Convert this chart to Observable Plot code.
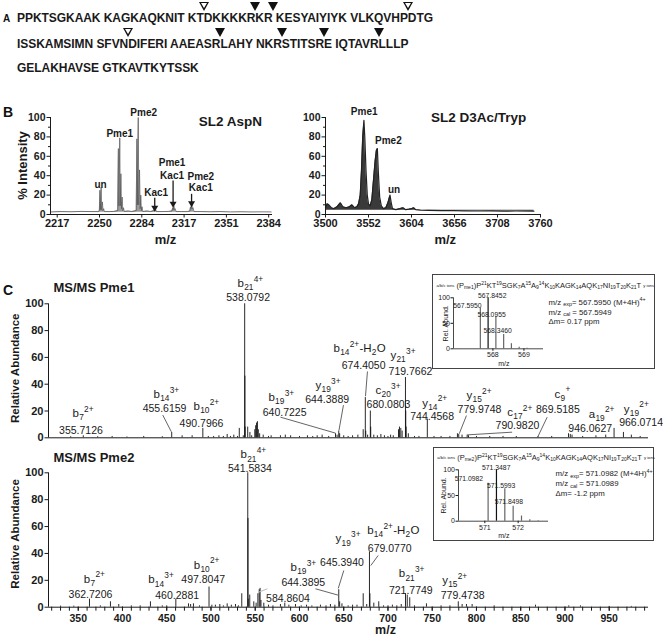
<!DOCTYPE html>
<html><head><meta charset="utf-8">
<script src="https://cdn.jsdelivr.net/npm/d3@7"></script>
<script src="https://cdn.jsdelivr.net/npm/@observablehq/plot@0.6"></script>
<style>
html,body{margin:0;padding:0;background:#fff}
#fig{position:relative;width:663px;height:636px;overflow:hidden;font-family:"Liberation Sans",Arial,Helvetica,sans-serif;color:#111;background:#fff}
#fig svg{position:absolute}
.seq{position:absolute;left:17px;font-weight:bold;font-size:12px;line-height:14px;white-space:pre;color:#1a1a1a}
.plab{position:absolute;font-weight:bold;line-height:16px}
.tri{position:absolute;width:0;height:0}
.tri::before{content:"";position:absolute;left:-5px;top:0;border-left:5px solid transparent;border-right:5px solid transparent;border-top:9px solid #111}
.tri.o::after{content:"";position:absolute;left:-3.2px;top:1.1px;border-left:3.2px solid transparent;border-right:3.2px solid transparent;border-top:5.8px solid #fff}
</style></head>
<body><div id="fig"></div>
<script>
// ---------------- DATA ----------------
const seqLines = [
  "PPKTSGKAAK KAGKAQKNIT KT{o}DKKKKR{f}KR{f} KESYAIYIYK VLKQVHP{o}DTG",
  "ISSKAMSIMN SFVN{o}DIFERI AAEASR{f}LAHY NKR{f}STITSR{f}E IQTAVR{f}LLLP",
  "GELAKHAVSE GTKAVTKYTSSK"
];

// Panel B left: SL2 AspN spectrum [m/z, % intensity]
const aspN = [[2212,2.6],[2220,3],[2228,2.8],[2236,3.2],[2244,3],[2249.8,3],
 [2250.3,4],[2250.7,25],[2251.1,5],[2251.7,28],[2252.1,5],[2252.7,13],[2253.1,4],[2253.7,6],[2254.2,3],
 [2258,3],[2262,3.2],
 [2264.8,4],[2265.3,68],[2265.7,9],[2266.4,79],[2266.8,9],[2267.3,42],[2267.8,6],[2268.3,18],[2268.8,4],[2269.3,7],[2270,3],
 [2273,3.5],[2276,3],
 [2279.4,4],[2279.9,78],[2280.3,10],[2281,100],[2281.4,10],[2282,46],[2282.5,6],[2283,20],[2283.5,4],[2284,8],[2284.6,3],
 [2288,3.5],[2291,3],
 [2293.3,4],[2293.8,5.5],[2294.3,4],[2294.8,5],[2295.4,3],
 [2300,3],[2305,3.2],
 [2307.6,3.5],[2308.2,7],[2308.7,5],[2309.2,8.5],[2309.7,5],[2310.2,6],[2310.8,3],
 [2315,3],[2320,3],
 [2321.8,3.5],[2322.3,8],[2322.8,6],[2323.3,10],[2323.8,6],[2324.3,7],[2325,3],
 [2330,3],[2338,2.8],[2346,3],[2354,2.6],[2362,2.8],[2370,2.6],[2378,2.7],[2386,2.6]];
const aspNTicks = [2217, 2250.4, 2283.8, 2317.2, 2350.6, 2384];
const aspNLabels = [
  {t:"un", x:2251.2, y:30.6}, {t:"Pme1", x:2266.4, y:83.2}, {t:"Pme2", x:2285.3, y:104.4},
  {t:"Kac1", x:2295.1, y:22}, {t:"Pme1", x:2307.7, y:52.9}, {t:"Kac1", x:2307.7, y:40.2},
  {t:"Pme2", x:2330.4, y:39.2}, {t:"Kac1", x:2330.4, y:27.1}];
const aspNArrows = [[2294,17.2,2294,6.9],[2308.5,35,2308.5,11],[2323.1,21.3,2323.1,11.6]];

// Panel B right: SL2 D3Ac/Tryp spectrum
const tryp = [[3500,7],[3502,11],[3504,10],[3507,7],[3510,6],[3514,8],[3518,12],[3521,8],[3525,7],[3529,8],[3532,10],[3535,7],
 [3538,8],[3540,11],[3542,20],[3543.5,45],[3545,80],[3546.5,97],[3547.5,80],[3549,45],[3550.5,20],[3552,11],[3554,9],
 [3556,15],[3558,35],[3560,55],[3561.5,66],[3562.7,68],[3564,42],[3565.5,18],[3567.5,9],[3570,6],[3573,7],[3575.5,12],
 [3578,20],[3579.5,12],[3581,6],[3585,5],[3590,6],[3593.7,7],[3597,5],[3601,5.5],[3604,6],[3606.6,7],[3609,5],[3615,4.5],
 [3625,4.2],[3640,4],[3655,4],[3670,3.8],[3685,3.6],[3700,3.7],[3715,3.5],[3730,3.6],[3752,3.4]];
const trypTicks = [3500, 3552, 3604, 3656, 3708, 3760];
const trypLabels = [{t:"Pme1", x:3546.8, y:105.5}, {t:"Pme2", x:3576, y:75.6}, {t:"un", x:3582.9, y:25.8}];

// Panel C: MS/MS spectra [m/z, relative abundance]
const pme1Peaks = [[341.5,0.8],[355.71,1.5],[372,0.8],[388.3,1],[405,0.6],[424,1],[445,0.8],[455.62,4],[467.4,1.5],[478.7,1.5],
 [490.8,7],[497,1],[503,1],[509,1.5],[514,1],[518.3,2.5],[522,1],[525.8,2],[530,1],[532,7],[536.5,1.5],[538.08,100],[538.33,46],
 [538.58,8],[541.5,8],[544,4],[546,1.5],[549.5,6],[550.5,9],[551.5,11],[552.5,12],[553.5,6],[555,3],[559,2],[565,1],[568,1.5],
 [578.5,1.5],[584,2],[590,1.5],[600,1],[609,1.5],[615,1],[620,1.5],[625.6,2],[633,1],[640.72,3],[642.5,2],[644.39,5],[645.4,3],
 [650,1.5],[655,1],[660,1.5],[666,2],[672,6],[674.41,30],[674.9,5],[677,2],[680.08,20],[680.5,8],[684,2],[688,1.5],[692,2.5],
 [696,1.5],[700,1],[703,2],[706,1.5],[711.9,6],[713,8],[714.5,7],[716,5],[719.77,45],[720.1,20],[720.5,8],[723,3],[730,1],
 [735,1],[744.46,14],[752,1],[760,1],[770,1],[778.5,3],[779.97,2.5],[783.7,2],[789.5,2],[791,1.5],[800,1],[815,1],[830,1],
 [845,1],[869.5,1],[885,1],[904,3],[906,2.5],[908,2],[920,1],[935,1.5],[946.06,2],[955.5,7],[966.07,4],[975,2],[985,1]];
const pme2Peaks = [[330,0.8],[345,0.8],[362.72,6],[375,1],[386.4,4],[395.8,2],[410,1],[420,1],[431.6,4],[445,1],[450,1],
 [460.29,6],[474.6,2.5],[477,2],[480.2,2.5],[487,1],[497.8,15],[501,1.5],[505,1.5],[510,2],[514,1],[518.3,2.5],[523,1.5],
 [527.7,2],[531,1],[534.8,10],[541.58,100],[541.83,66],[542.1,6],[543.8,9],[548.4,4],[551,3],[553,10],[554.5,13],[555.5,14],
 [556.5,5],[559.7,3],[565,1.5],[570,1],[578.5,2],[583.4,3],[588,1.5],[595.5,2],[602,1],[608,1.5],[614,1],[623.7,1.5],[630,1],
 [635,2],[640,1.5],[644.39,13],[645.39,4],[648,2.5],[655,1],[660,1.5],[665,1.5],[672,10],[676,2],[679.08,41],[679.6,10],
 [684,3],[689.6,4],[695,1],[700,1],[705,1.5],[710,1],[715,2],[719.8,10],[721.77,9],[724.6,7],[730,1],[743.5,2.5],[760,1],
 [770,1],[779.47,4],[783.8,2],[788.7,2],[795.1,2],[820,1],[866.7,1.5],[904.3,1],[917.5,1],[950,0.6],[975,0.6]];
const cMajorTicks = [350,400,450,500,550,600,650,700,750,800,850,900,950];
const yTicks = [0,20,40,60,80,100];

const pme1Ions = [
 {ion:"b_{7}^{2+}", mz:"355.7126", lx:343.5, ly:18.1, vx:353.1, vy:5.4},
 {ion:"b_{14}^{3+}", mz:"455.6159", lx:435.0, ly:32.3, vx:447.5, vy:22.1},
 {ion:"b_{10}^{2+}", mz:"490.7966", lx:480.2, ly:23.6, vx:489.3, vy:10.9},
 {ion:"b_{21}^{4+}", mz:"538.0792", lx:529.9, ly:115.1, vx:542.0, vy:104.5},
 {ion:"b_{19}^{3+}", mz:"640.7225", lx:564.9, ly:30.3, vx:583.2, vy:19.1},
 {ion:"y_{19}^{3+}", mz:"644.3889", lx:618.1, ly:39.0, vx:631.3, vy:28.5},
 {ion:"b_{14}^{2+}-H_{2}O", mz:"674.4050", lx:638.4, ly:66.6, vx:672.5, vy:54},
 {ion:"y_{21}^{3+}", mz:"719.7662", lx:702.8, ly:61.4, vx:725.4, vy:49.7},
 {ion:"c_{20}^{3+}", mz:"680.0803", lx:685.9, ly:35.3, vx:700.6, vy:24.9},
 {ion:"y_{14}^{2+}", mz:"744.4568", lx:738.6, ly:26.0, vx:749.9, vy:15.8},
 {ion:"y_{15}^{2+}", mz:"779.9748", lx:788.7, ly:31.6, vx:803.4, vy:20.9},
 {ion:"c_{17}^{2+}", mz:"790.9820", lx:834.8, ly:18.8, vx:846.3, vy:9.4},
 {ion:"c_{9}^{+}", mz:"869.5185", lx:888.1, ly:32.8, vx:892.0, vy:20.9},
 {ion:"a_{19}^{2+}", mz:"946.0627", lx:926.9, ly:17.9, vx:928.5, vy:6.7},
 {ion:"y_{19}^{2+}", mz:"966.0714", lx:966.4, ly:21.6, vx:986.0, vy:11.4}];
const pme1Leaders = [[445.5,17,455.2,4.5],[578.5,15.4,640.7,3.5],[649.7,24.4,644.6,5.5],[676.8,49.5,674.6,31],
 [788.7,16.6,780.5,3],[840.3,4.2,789.9,2.2],[879.9,15.4,869.5,1]];

const pme2Ions = [
 {ion:"b_{21}^{4+}", mz:"541.5834", lx:533.3, ly:113.4, vx:544.0, vy:103.2},
 {ion:"b_{7}^{2+}", mz:"362.7206", lx:356.3, ly:21.1, vx:363.8, vy:9.4},
 {ion:"b_{14}^{3+}", mz:"460.2881", lx:429.0, ly:20.4, vx:461.8, vy:8.7},
 {ion:"b_{10}^{2+}", mz:"497.8047", lx:480.5, ly:31.5, vx:491.2, vy:20.6},
 {ion:"b_{19}^{3+}", mz:"644.3895", lx:589.8, ly:29.8, vx:604.3, vy:18.6},
 {ion:"y_{19}^{3+}", mz:"645.3940", lx:640.7, ly:50.9, vx:648.0, vy:33.5},
 {ion:"b_{14}^{2+}-H_{2}O", mz:"679.0770", lx:676.5, ly:57.1, vx:702.0, vy:43.5},
 {ion:"b_{21}^{3+}", mz:"721.7749", lx:712.2, ly:24.9, vx:725.8, vy:12.4},
 {ion:"y_{15}^{2+}", mz:"779.4738", lx:761.2, ly:19.9, vx:784.4, vy:8.7},
 {ion:"", mz:"584.8604", lx:587, ly:6.3, vx:587.0, vy:6.3}];
const pme2Leaders = [[618.1,13.7,643.5,9],[650.1,27.3,643.8,14],[688.9,38.5,680.6,31]];
const pme2Faint = [[554.0,11.2,563.8,13.7]];

// Insets: isotope clusters
const iso1 = [[567.595,80],[567.8452,100],[568.0955,64],[568.346,28],[568.596,10],[568.846,3],[569.1,1]];
const iso1Labels = [{t:"567.8452", x:567.978, y:104.5, a:"middle"},{t:"567.5950", x:567.18, y:84.9, a:"start"},
 {t:"568.0955", x:567.956, y:67.3, a:"start"},{t:"568.3460", x:568.15, y:35.9, a:"start"}];
const iso1Info = ["m/z _{exp}= 567.5950 (M+4H)^{4+}", "m/z _{cal} = 567.5949", "Δm= 0.17 ppm"];
const iso1Head = "~{a/b/c ions} (P_{me1})P^{21}KT^{19}SGK_{7}A^{15}A_{9}^{14}K_{10}KAGK_{14}AQK_{17}NI_{19}T_{20}K_{21}T ~{y ions}";
const iso2 = [[571.0982,74],[571.3487,100],[571.5993,63],[571.8498,29],[572.1,10],[572.35,3],[572.6,1]];
const iso2Labels = [{t:"571.3487", x:571.342, y:103.9, a:"middle"},{t:"571.0982", x:570.52, y:82.5, a:"start"},
 {t:"571.5993", x:571.49, y:69.5, a:"start"},{t:"571.8498", x:571.72, y:37, a:"start"}];
const iso2Info = ["m/z _{exp}= 571.0982 (M+4H)^{4+}", "m/z _{cal} = 571.0989", "Δm= -1.2 ppm"];
const iso2Head = "~{a/b/c ions} (P_{me2})P^{21}KT^{19}SGK_{7}A^{15}A_{9}^{14}K_{10}KAGK_{14}AQK_{17}NI_{19}T_{20}K_{21}T ~{y ions}";

// ---------------- HELPERS ----------------
const FONT = '"Liberation Sans", Arial, Helvetica, sans-serif';
const INK = "#1a1a1a";
const fig = document.getElementById("fig");
const ctx = document.createElement("canvas").getContext("2d");
function tw(t, fs, fw = "normal") { ctx.font = `${fw} ${fs}px "Liberation Sans", Arial`; return ctx.measureText(t).width; }
function parse(s) {
  const re = /_\{([^}]*)\}|\^\{([^}]*)\}|~\{([^}]*)\}|([^_^~]+)/g; const out = []; let m;
  while ((m = re.exec(s))) {
    if (m[1] != null) out.push([m[1], "b"]); else if (m[2] != null) out.push([m[2], "p"]);
    else if (m[3] != null) out.push([m[3], "s"]); else out.push([m[4], "n"]);
  }
  return out;
}
function rich(s, x, y, o = {}) {
  const {size = 11, small = 8, tiny = 5, sub = 4.5, sup = -4, fill = INK, weight = "normal", gap = 0} = o;
  let off = 0; const out = [];
  for (const [raw, k] of parse(s)) {
    const t = raw.replace(/ /g, "\u00a0");
    const fs = k === "n" ? size : k === "s" ? tiny : small;
    const dy = k === "b" ? sub : k === "p" ? sup : 0;
    out.push(Plot.text([t], {x: [x], y: [y], text: [t], dx: off, dy, fontSize: fs, fontWeight: weight, textAnchor: "start", fill}));
    off += tw(t, fs, weight) + gap;
  }
  return out;
}
function place(svg, left, top, extra = {}) {
  svg.style.left = left + "px"; svg.style.top = top + "px";
  Object.assign(svg.style, extra);
  fig.appendChild(svg);
}
const baseStyle = {fontFamily: FONT, color: INK, background: "transparent", overflow: "visible"};

// ---------------- PANEL A ----------------
const lineTops = [11.3, 37.3, 61.1];
const seqRows = seqLines.map((line, li) => {
  const chars = [], cuts = [];
  line.split(/(\{[of]\})/).forEach(tok => {
    if (tok === "{o}" || tok === "{f}") cuts.push({idx: chars.length, type: tok[1]});
    else for (const c of tok) chars.push(c);
  });
  const div = document.createElement("div");
  div.className = "seq"; div.style.top = lineTops[li] + "px";
  chars.forEach(c => { const s = document.createElement("span"); s.textContent = c; div.appendChild(s); });
  fig.appendChild(div);
  return {div, chars, cuts, top: lineTops[li]};
});
const natW = seqRows[0].div.getBoundingClientRect().width;
const spacing = (416 - natW) / seqRows[0].chars.length;
seqRows.forEach(r => r.div.style.letterSpacing = spacing + "px");
const figLeft = fig.getBoundingClientRect().left;
seqRows.forEach(r => r.cuts.forEach(c => {
  const x = r.div.children[c.idx].getBoundingClientRect().left - figLeft - spacing / 2;
  const t = document.createElement("div");
  t.className = "tri " + c.type;
  t.style.left = x + "px"; t.style.top = (r.top - 9.8) + "px";
  fig.appendChild(t);
}));
[["A", 3, 10.5, 10], ["B", 3, 104, 14], ["C", 3, 282, 14]].forEach(([t, l, tp, fs]) => {
  const d = document.createElement("div"); d.className = "plab";
  d.style.left = l + "px"; d.style.top = tp + "px"; d.style.fontSize = fs + "px"; d.textContent = t;
  fig.appendChild(d);
});

// ---------------- PANEL B ----------------
const bAxisY = (x0) => [
  Plot.ruleX([x0], {y1: 0, y2: 100, stroke: INK, strokeWidth: 1}),
  Plot.axisY({ticks: yTicks, tickSize: 3.5, tickPadding: 1.5, fontSize: 10.5, fontWeight: "bold", label: null, tickFormat: d => String(d)}),
  Plot.axisY({ticks: [10,30,50,70,90], tickSize: 2, label: null, tickFormat: () => ""})
];
const bLeft = Plot.plot({
  width: 300, height: 160, marginLeft: 50, marginRight: 28, marginTop: 22, marginBottom: 41,
  x: {domain: [2211.7, 2387], axis: null}, y: {domain: [0, 100], axis: null}, style: baseStyle,
  marks: [
    Plot.areaY(aspN, {x: d => d[0], y1: 2.4, y2: d => d[1], fill: "#9a9a9a"}),
    Plot.lineY(aspN, {x: d => d[0], y: d => d[1], stroke: "#555", strokeWidth: 0.7}),
    ...bAxisY(2211.7),
    Plot.ruleY([0], {stroke: INK, strokeWidth: 1}),
    Plot.axisX({ticks: aspNTicks, tickSize: 3.5, tickPadding: 1.5, fontSize: 11, fontWeight: "bold", label: null, tickFormat: d => String(Math.round(d))}),
    Plot.text(aspNLabels, {x: "x", y: "y", text: "t", fontSize: 10, fontWeight: "bold", fill: INK}),
    Plot.link(aspNArrows, {x1: d => d[0], y1: d => d[1], x2: d => d[2], y2: d => d[3], stroke: INK, strokeWidth: 1.3}),
    Plot.dot(aspNArrows, {x: d => d[2], y: d => d[3], symbol: "triangle", rotate: 180, r: 2.6, fill: INK, stroke: "none"}),
    Plot.text(["SL2 AspN"], {x: [2353.8], y: [95.9], text: d => d, fontSize: 13.5, fontWeight: "bold", fill: INK}),
    Plot.text(["m/z"], {x: [2302.5], y: [-25.8], text: d => d, fontSize: 13, fontWeight: "bold", fill: INK}),
    Plot.text(["% Intensity"], {x: [2189.6], y: [50.5], text: d => d, rotate: -90, fontSize: 13, fontWeight: "bold", fill: INK})
  ]
});
place(bLeft, 0, 95);

const bRight = Plot.plot({
  width: 290, height: 160, marginLeft: 45, marginRight: 30, marginTop: 22, marginBottom: 41,
  x: {domain: [3500, 3760], axis: null}, y: {domain: [0, 100], axis: null}, style: baseStyle,
  marks: [
    Plot.areaY(tryp, {x: d => d[0], y1: 4.5, y2: d => d[1], fill: "#3a3a3a"}),
    Plot.lineY(tryp, {x: d => d[0], y: d => d[1], stroke: "#222", strokeWidth: 1.2}),
    ...bAxisY(3500),
    Plot.ruleY([0], {stroke: INK, strokeWidth: 1}),
    Plot.axisX({ticks: trypTicks, tickSize: 3.5, tickPadding: 1.5, fontSize: 11, fontWeight: "bold", label: null, tickFormat: d => String(d)}),
    Plot.text(trypLabels, {x: "x", y: "y", text: "t", fontSize: 10, fontWeight: "bold", fill: INK}),
    Plot.text(["SL2 D3Ac/Tryp"], {x: [3685.2], y: [99.7], text: d => d, fontSize: 13.5, fontWeight: "bold", fill: INK}),
    Plot.text(["m/z"], {x: [3644.8], y: [-25.8], text: d => d, fontSize: 13, fontWeight: "bold", fill: INK})
  ]
});
place(bRight, 280, 95);

// ---------------- PANEL C ----------------
const cDomain = [316.4, 994.4];
function ionMarks(ions) {
  const out = [];
  ions.forEach(d => { if (d.ion) out.push(...rich(d.ion, d.lx, d.ly, {size: 11.5, small: 8.3, sub: 4.2, sup: -4.2, gap: 0.3})); });
  out.push(Plot.text(ions, {x: "vx", y: "vy", text: "mz", fontSize: 10.5, fill: INK}));
  return out;
}
const cAxisY = [
  Plot.ruleX([cDomain[0]], {y1: 0, y2: 100, stroke: INK, strokeWidth: 1}),
  Plot.axisY({ticks: yTicks, tickSize: 3.5, tickPadding: 1.5, fontSize: 11, fontWeight: "bold", label: null, tickFormat: d => String(d)})
];
const cTop = Plot.plot({
  width: 663, height: 175, marginLeft: 48, marginRight: 15, marginTop: 33.3, marginBottom: 7.7,
  x: {domain: cDomain, axis: null}, y: {domain: [0, 100], axis: null}, style: baseStyle,
  marks: [
    Plot.ruleX(pme1Peaks, {x: d => d[0], y1: 0, y2: d => d[1], stroke: "#111", strokeWidth: 0.9}),
    Plot.ruleY([0], {stroke: INK, strokeWidth: 1}),
    ...cAxisY,
    Plot.link(pme1Leaders, {x1: d => d[0], y1: d => d[1], x2: d => d[2], y2: d => d[3], stroke: "#222", strokeWidth: 0.7}),
    ...ionMarks(pme1Ions),
    Plot.text(["MS/MS Pme1"], {x: [322], y: [112.2], text: d => d, textAnchor: "start", fontSize: 13, fontWeight: "bold", fill: INK}),
    Plot.text(["Relative Abundance"], {x: [279.1], y: [51.9], text: d => d, rotate: -90, fontSize: 11.5, fontWeight: "bold", fill: INK})
  ]
});
place(cTop, 0, 270);

const cBot = Plot.plot({
  width: 663, height: 196, marginLeft: 48, marginRight: 15, marginTop: 32.3, marginBottom: 29.3,
  x: {domain: cDomain, axis: null}, y: {domain: [0, 100], axis: null}, style: baseStyle,
  marks: [
    Plot.ruleX(pme2Peaks, {x: d => d[0], y1: 0, y2: d => d[1], stroke: "#111", strokeWidth: 0.9}),
    Plot.ruleY([0], {stroke: INK, strokeWidth: 1}),
    ...cAxisY,
    Plot.axisX({ticks: d3.range(320, 1000, 10), tickSize: 4, label: null, tickFormat: () => ""}),
    Plot.axisX({ticks: cMajorTicks, tickSize: 4, tickPadding: 3, fontSize: 10.5, fontWeight: "bold", label: null, tickFormat: d => String(d)}),
    Plot.link(pme2Leaders, {x1: d => d[0], y1: d => d[1], x2: d => d[2], y2: d => d[3], stroke: "#222", strokeWidth: 0.7}),
    Plot.link(pme2Faint, {x1: d => d[0], y1: d => d[1], x2: d => d[2], y2: d => d[3], stroke: "#bbb", strokeWidth: 1}),
    ...ionMarks(pme2Ions),
    Plot.text(["MS/MS Pme2"], {x: [322], y: [110.9], text: d => d, textAnchor: "start", fontSize: 13, fontWeight: "bold", fill: INK}),
    Plot.text(["Relative Abundance"], {x: [279.1], y: [54.5], text: d => d, rotate: -90, fontSize: 11.5, fontWeight: "bold", fill: INK}),
    Plot.text(["m/z"], {x: [697.2], y: [-17.3], text: d => d, fontSize: 12.5, fontWeight: "bold", fill: INK})
  ]
});
place(cBot, 0, 440);

// ---------------- INSETS ----------------
function inset(cfg) {
  const {iso, labels, info, head, dom, w, h, ml, mr, mt, mb, ticks, infoX, infoY, headX, headY, relX, mzX} = cfg;
  const marks = [
    Plot.ruleX(iso, {x: d => d[0], y1: 0, y2: d => d[1], stroke: (d, i) => i === 1 ? "#111" : "#666", strokeWidth: 1.2}),
    Plot.ruleY([0], {stroke: INK, strokeWidth: 0.8}),
    Plot.ruleX([dom[0]], {y1: 0, y2: 100, stroke: INK, strokeWidth: 0.8}),
    Plot.axisY({ticks: [0, 50, 100], tickSize: 2.5, tickPadding: 1, fontSize: 7, label: null, tickFormat: d => String(d)}),
    Plot.axisX({ticks, tickSize: 2.5, tickPadding: 1, fontSize: 7, label: null, tickFormat: d => String(d)}),
    Plot.text(labels, {x: "x", y: "y", text: "t", textAnchor: d => d.a, fontSize: 6.8, fill: INK}),
    Plot.text(["Rel. Abund."], {x: [relX], y: [50], text: d => d, rotate: -90, fontSize: 7, fill: INK}),
    Plot.text(["m/z"], {x: [mzX], y: [-29], text: d => d, fontSize: 7, fill: INK}),
    ...rich(head, headX, headY, {size: 7.5, small: 5, tiny: 4.2, sub: 1.9, sup: -2.4})
  ];
  info.forEach((s, i) => marks.push(...rich(s, infoX, infoY[i], {size: 7.8, small: 5.4, sub: 2, sup: -2.7})));
  return Plot.plot({
    width: w, height: h, marginLeft: ml, marginRight: mr, marginTop: mt, marginBottom: mb,
    x: {domain: dom, axis: null}, y: {domain: [0, 100], axis: null},
    style: {...baseStyle, background: "#fff"}, marks
  });
}
place(inset({iso: iso1, labels: iso1Labels, info: iso1Info, head: iso1Head, dom: [566.73, 569.63],
  w: 221, h: 93, ml: 20, mr: 111, mt: 22.3, mb: 19.7, ticks: [568, 569],
  infoX: 569.79, infoY: [91.4, 71.8, 53.5], headX: 566.18, headY: 124.1, relX: 566.47, mzX: 568.35}),
  432, 274, {border: "1px solid #444"});
place(inset({iso: iso2, labels: iso2Labels, info: iso2Info, head: iso2Head, dom: [570.21, 572.91],
  w: 219, h: 92, ml: 24, mr: 105, mt: 21.3, mb: 19.3, ticks: [571, 572],
  infoX: 573.12, infoY: [92.2, 72.8, 54.5], headX: 569.57, headY: 123.3, relX: 569.77, mzX: 571.57}),
  433, 447, {border: "1px solid #444"});
</script>
</body></html>
